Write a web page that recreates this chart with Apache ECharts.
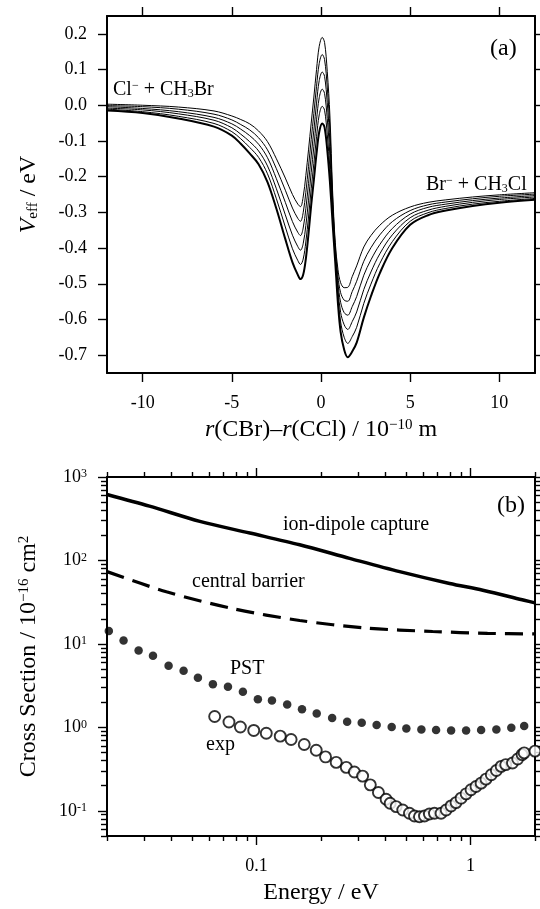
<!DOCTYPE html>
<html>
<head>
<meta charset="utf-8">
<script src="https://cdn.jsdelivr.net/npm/echarts@6/dist/echarts.min.js"></script>
<style>
  html, body { margin: 0; padding: 0; background: #fff; }
  #chart { width: 540px; height: 909px; }
</style>
</head>
<body>
<div id="chart"></div>
<script>
// panel (a): effective potential curves, x = r(CBr)-r(CCl)
const rGrid = [-12, -10, -8, -6, -5, -4.5, -4, -3.5, -3, -2.5, -2, -1.6, -1.3, -1.15, -1.0, -0.85, -0.7, -0.55, -0.4, -0.25, -0.1, 0.07, 0.2, 0.35, 0.5, 0.65, 0.8, 0.95, 1.1, 1.3, 1.5, 1.75, 2.0, 2.4, 2.8, 3.3, 4, 5, 6, 7, 8.5, 10, 12]
const veff1 = [0.003, 0.000, -0.005, -0.016, -0.030, -0.040, -0.052, -0.072, -0.102, -0.150, -0.204, -0.250, -0.277, -0.284, -0.257, -0.197, -0.125, -0.050, 0.023, 0.100, 0.165, 0.190, 0.176, 0.095, -0.030, -0.240, -0.385, -0.460, -0.497, -0.511, -0.510, -0.480, -0.450, -0.397, -0.365, -0.336, -0.308, -0.285, -0.272, -0.265, -0.257, -0.251, -0.245]
const veff2 = [-0.001, -0.004, -0.011, -0.025, -0.041, -0.054, -0.069, -0.091, -0.125, -0.178, -0.238, -0.288, -0.317, -0.325, -0.301, -0.244, -0.172, -0.096, -0.023, 0.053, 0.117, 0.142, 0.128, 0.051, -0.067, -0.258, -0.396, -0.479, -0.525, -0.546, -0.549, -0.522, -0.493, -0.437, -0.399, -0.363, -0.326, -0.295, -0.279, -0.271, -0.262, -0.255, -0.249]
const veff3 = [-0.004, -0.009, -0.018, -0.034, -0.052, -0.067, -0.085, -0.109, -0.147, -0.206, -0.272, -0.326, -0.356, -0.365, -0.344, -0.290, -0.219, -0.142, -0.070, 0.006, 0.069, 0.093, 0.081, 0.007, -0.104, -0.276, -0.407, -0.498, -0.552, -0.581, -0.588, -0.564, -0.536, -0.476, -0.433, -0.390, -0.345, -0.305, -0.286, -0.277, -0.267, -0.260, -0.253]
const veff4 = [-0.008, -0.013, -0.024, -0.042, -0.063, -0.081, -0.102, -0.128, -0.170, -0.234, -0.307, -0.364, -0.396, -0.406, -0.388, -0.337, -0.266, -0.188, -0.116, -0.041, 0.021, 0.045, 0.033, -0.037, -0.141, -0.294, -0.418, -0.517, -0.580, -0.615, -0.628, -0.606, -0.579, -0.516, -0.467, -0.416, -0.363, -0.315, -0.294, -0.283, -0.272, -0.264, -0.257]
const veff5 = [-0.011, -0.018, -0.031, -0.051, -0.074, -0.094, -0.118, -0.146, -0.192, -0.262, -0.341, -0.402, -0.435, -0.446, -0.431, -0.383, -0.313, -0.234, -0.163, -0.088, -0.027, -0.003, -0.014, -0.081, -0.178, -0.312, -0.429, -0.536, -0.607, -0.650, -0.667, -0.648, -0.622, -0.555, -0.501, -0.443, -0.382, -0.325, -0.301, -0.289, -0.277, -0.269, -0.261]
const veff6 = [-0.015, -0.022, -0.037, -0.060, -0.085, -0.108, -0.135, -0.165, -0.215, -0.290, -0.375, -0.440, -0.475, -0.487, -0.475, -0.430, -0.360, -0.280, -0.209, -0.135, -0.075, -0.051, -0.062, -0.125, -0.215, -0.330, -0.440, -0.555, -0.635, -0.685, -0.706, -0.690, -0.665, -0.595, -0.535, -0.470, -0.400, -0.335, -0.308, -0.295, -0.282, -0.273, -0.265]
const rTicks = [-10, -5, 0, 5, 10]
const veffTicks = [-0.7, -0.6, -0.5, -0.4, -0.3, -0.2, -0.1, 0, 0.1, 0.2]

// panel (b): cross sections vs energy
const captureE = [0.02, 0.0316, 0.0543, 0.093, 0.159, 0.272, 0.466, 0.798, 1.14, 1.78, 2]
const captureS = [617, 447, 294, 213, 154, 106, 73.5, 53, 44, 33.4, 31]
const barrierE = [0.02, 0.0379, 0.0774, 0.159, 0.325, 0.665, 1.2, 2]
const barrierS = [73.5, 42.2, 26.5, 19.1, 15.5, 14.1, 13.4, 13.2]
const pstE = [0.0204, 0.0239, 0.0281, 0.0328, 0.0388, 0.0456, 0.0532, 0.0625, 0.0735, 0.0863, 0.1014, 0.118, 0.139, 0.163, 0.191, 0.2255, 0.265, 0.310, 0.364, 0.428, 0.501, 0.589, 0.690, 0.811, 0.953, 1.12, 1.32, 1.55, 1.78]
const pstS = [14.3, 11.0, 8.32, 7.24, 5.49, 4.77, 3.93, 3.30, 3.06, 2.67, 2.18, 2.10, 1.88, 1.65, 1.47, 1.30, 1.17, 1.14, 1.07, 1.01, 0.97, 0.946, 0.929, 0.92, 0.92, 0.93, 0.946, 0.99, 1.04]
const expE = [0.0637, 0.0743, 0.084, 0.097, 0.111, 0.129, 0.145, 0.167, 0.190, 0.210, 0.2355, 0.2625, 0.2865, 0.313, 0.340, 0.371, 0.403, 0.421, 0.449, 0.482, 0.518, 0.547, 0.577, 0.609, 0.642, 0.678, 0.728, 0.769, 0.811, 0.855, 0.903, 0.953, 1.005, 1.06, 1.12, 1.18, 1.25, 1.32, 1.39, 1.46, 1.57, 1.66, 1.74, 1.78, 2.0]
const expS = [1.35, 1.16, 1.01, 0.92, 0.85, 0.786, 0.716, 0.624, 0.532, 0.443, 0.381, 0.332, 0.292, 0.261, 0.205, 0.166, 0.138, 0.1236, 0.1125, 0.1026, 0.0935, 0.0867, 0.0851, 0.0867, 0.0918, 0.0935, 0.0935, 0.1026, 0.1146, 0.1256, 0.142, 0.160, 0.179, 0.196, 0.215, 0.240, 0.271, 0.305, 0.341, 0.358, 0.375, 0.419, 0.472, 0.495, 0.52]
const energyMajor = [0.1, 1]
const energyMinor = [0.02, 0.03, 0.04, 0.05, 0.06, 0.07, 0.08, 0.09, 0.2, 0.3, 0.4, 0.5, 0.6, 0.7, 0.8, 0.9, 2]
const sigmaMajor = [0.1, 1, 10, 100, 1000]
const sigmaMinor = [0.05, 0.06, 0.07, 0.08, 0.09, 0.2, 0.3, 0.4, 0.5, 0.6, 0.7, 0.8, 0.9, 2, 3, 4, 5, 6, 7, 8, 9, 20, 30, 40, 50, 60, 70, 80, 90, 200, 300, 400, 500, 600, 700, 800, 900]

const font = 'Liberation Serif'
const pair = (xs, ys) => xs.map((x, i) => [x, ys[i]])

const titleRich = {
    i: {fontFamily: font, fontSize: 24, fontStyle: 'italic', color: '#000'},
    sup: {fontFamily: font, fontSize: 15, color: '#000', verticalAlign: 'top'},
    sub: {fontFamily: font, fontSize: 15, color: '#000', verticalAlign: 'bottom'}
}
const nameStyle = {fontFamily: font, fontSize: 24, color: '#000', rich: titleRich}

// one axis of the frame; ticks always drawn outside
function frameAxis(type, grid, pos, min, max, ticks, len, line) {
    return {
        type: type,
        gridIndex: grid,
        position: pos,
        min: min,
        max: max,
        axisLine: {show: line, onZero: false, lineStyle: {color: '#000', width: 2}},
        axisTick: {show: true, inside: false, length: len, customValues: ticks, lineStyle: {color: '#000', width: 1.4}},
        axisLabel: {show: false},
        splitLine: {show: false},
        minorTick: {show: false},
        minorSplitLine: {show: false}
    }
}

function withLabels(axis, values, margin, formatter) {
    axis.axisLabel = {
        show: true,
        customValues: values,
        margin: margin,
        formatter: formatter,
        fontFamily: font,
        fontSize: 18,
        color: '#000',
        rich: {
            b: {fontFamily: font, fontSize: 18, color: '#000'},
            sup: {fontFamily: font, fontSize: 12, color: '#000', verticalAlign: 'top'}
        }
    }
    return axis
}

const powerLabel = v => '{b|10}{sup|' + Math.round(Math.log10(v)) + '}'

// panel (a) axes
const xA = withLabels(frameAxis('value', 0, 'bottom', -12, 12, rTicks, 9, true), rTicks, 21, v => String(v))
xA.name = '{i|r}(CBr)–{i|r}(CCl) / 10{sup|−10} m'
xA.nameLocation = 'middle'
xA.nameGap = 45
xA.nameTextStyle = nameStyle
const xATop = frameAxis('value', 0, 'top', -12, 12, rTicks, 9, true)

const yA = withLabels(frameAxis('value', 0, 'left', -0.75, 0.25, veffTicks, 9, true), veffTicks, 20, v => v.toFixed(1))
yA.name = '{i|V}{sub|eff} / eV'
yA.nameLocation = 'middle'
yA.nameRotate = 90
yA.nameGap = 66
yA.nameTextStyle = nameStyle
const yARight = frameAxis('value', 0, 'right', -0.75, 0.25, veffTicks, 8, true)

// panel (b) axes, major + minor tick axes on every side
const xB = withLabels(frameAxis('log', 1, 'bottom', 0.02, 2, energyMajor, 9, true), energyMajor, 21, v => String(v))
xB.name = 'Energy / eV'
xB.nameLocation = 'middle'
xB.nameGap = 45
xB.nameTextStyle = nameStyle
const xBMinor = frameAxis('log', 1, 'bottom', 0.02, 2, energyMinor, 5, false)
const xBTop = frameAxis('log', 1, 'top', 0.02, 2, energyMajor, 9, true)
const xBTopMinor = frameAxis('log', 1, 'top', 0.02, 2, energyMinor, 5, false)

const yB = withLabels(frameAxis('log', 1, 'left', 0.05, 1000, sigmaMajor, 9, true), sigmaMajor, 20, powerLabel)
yB.name = 'Cross Section / 10{sup|−16} cm{sup|2}'
yB.nameLocation = 'middle'
yB.nameRotate = 90
yB.nameGap = 66
yB.nameTextStyle = nameStyle
const yBMinor = frameAxis('log', 1, 'left', 0.05, 1000, sigmaMinor, 6, false)
const yBRight = frameAxis('log', 1, 'right', 0.05, 1000, sigmaMajor, 8, true)
const yBRightMinor = frameAxis('log', 1, 'right', 0.05, 1000, sigmaMinor, 5, false)

function curve(values, width) {
    return {
        type: 'line',
        xAxisIndex: 0,
        yAxisIndex: 0,
        data: pair(rGrid, values),
        showSymbol: false,
        smooth: 0.35,
        lineStyle: {color: '#000', width: width},
        z: 3
    }
}

function label(text, x, y, size) {
    return {
        type: 'text',
        left: x,
        top: y,
        style: {
            text: text,
            fontFamily: font,
            fontSize: size,
            fill: '#000',
            rich: {
                sup: {fontFamily: font, fontSize: 12, fill: '#000', verticalAlign: 'top'},
                sub: {fontFamily: font, fontSize: 12, fill: '#000', verticalAlign: 'bottom'}
            }
        }
    }
}

const myChart = echarts.init(document.getElementById('chart'))
myChart.setOption({
    animation: false,
    backgroundColor: '#fff',
    grid: [
        {left: 107, top: 16, width: 428, height: 357},
        {left: 107, top: 477, width: 428, height: 359}
    ],
    xAxis: [xA, xATop, xB, xBMinor, xBTop, xBTopMinor],
    yAxis: [yA, yARight, yB, yBMinor, yBRight, yBRightMinor],
    graphic: [
        label('(a)', 490, 37, 24),
        label('(b)', 497, 494, 24),
        label('Cl{sup|−} + CH{sub|3}Br', 113, 80, 20),
        label('Br{sup|−} + CH{sub|3}Cl', 426, 175, 20),
        label('ion-dipole capture', 283, 515, 20),
        label('central barrier', 192, 572, 20),
        label('PST', 230, 659, 20),
        label('exp', 206, 735, 20)
    ],
    series: [
        curve(veff1, 1),
        curve(veff2, 1),
        curve(veff3, 1),
        curve(veff4, 1),
        curve(veff5, 1),
        curve(veff6, 2),
        {
            name: 'ion-dipole capture',
            type: 'line',
            xAxisIndex: 2,
            yAxisIndex: 2,
            data: pair(captureE, captureS),
            showSymbol: false,
            smooth: 0.3,
            lineStyle: {color: '#000', width: 3.5}
        },
        {
            name: 'central barrier',
            type: 'line',
            xAxisIndex: 2,
            yAxisIndex: 2,
            data: pair(barrierE, barrierS),
            showSymbol: false,
            smooth: 0.3,
            lineStyle: {color: '#000', width: 3.2, type: [18, 9]}
        },
        {
            name: 'PST',
            type: 'scatter',
            xAxisIndex: 2,
            yAxisIndex: 2,
            data: pair(pstE, pstS),
            symbol: 'circle',
            symbolSize: 8.5,
            itemStyle: {color: '#000'}
        },
        {
            name: 'exp',
            type: 'scatter',
            xAxisIndex: 2,
            yAxisIndex: 2,
            data: pair(expE, expS),
            symbol: 'circle',
            symbolSize: 11,
            itemStyle: {color: '#fff', borderColor: '#000', borderWidth: 1.9},
            z: 4
        }
    ]
})
</script>
</body>
</html>
